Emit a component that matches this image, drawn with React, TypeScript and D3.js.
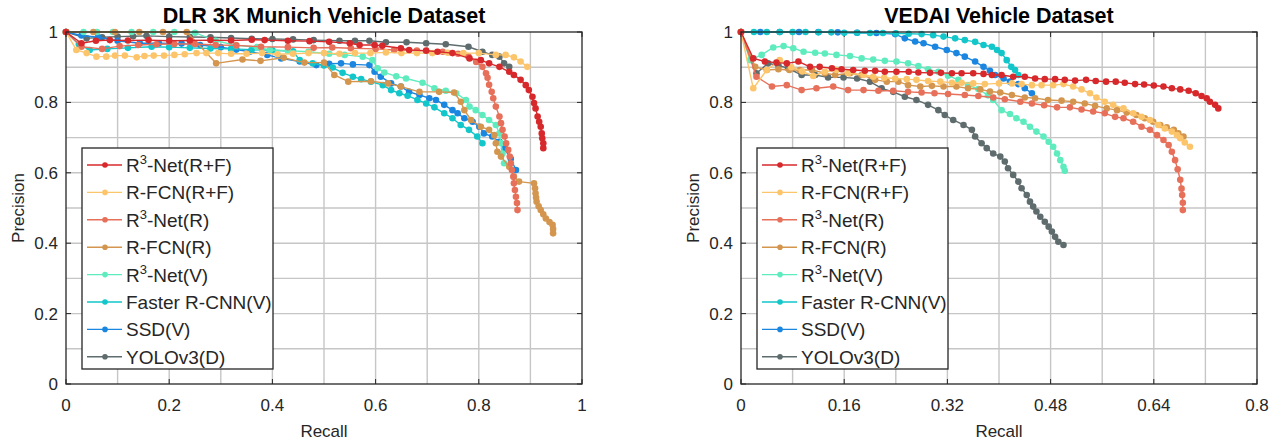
import * as d3 from "d3";
import { useEffect } from "react";

// legend order (drawn in reverse so the first entry ends up on top)
const seriesNames = [
  ["R", "3", "-Net(R+F)"],
  ["R-FCN(R+F)", "", ""],
  ["R", "3", "-Net(R)"],
  ["R-FCN(R)", "", ""],
  ["R", "3", "-Net(V)"],
  ["Faster R-CNN(V)", "", ""],
  ["SSD(V)", "", ""],
  ["YOLOv3(D)", "", ""],
];
const seriesColors = ["#d7292c", "#fcc56b", "#e7705a", "#d4964f", "#5eecbf", "#12c6c9", "#1a86e0", "#5f6c6e"];

// ---- DLR 3K Munich (recall, precision)
const dlrR3NetRF = [[0,1],[0.03,0.968],[0.058,0.975],[0.085,0.977],[0.12,0.976],[0.16,0.977],[0.2,0.975],[0.24,0.976],[0.28,0.977],[0.32,0.976],[0.36,0.978],[0.385,0.977],[0.43,0.975],[0.472,0.974],[0.51,0.972],[0.55,0.968],[0.569,0.963],[0.598,0.963],[0.613,0.961],[0.649,0.954],[0.665,0.949],[0.698,0.947],[0.72,0.944],[0.749,0.94],[0.782,0.925],[0.804,0.92],[0.82,0.911],[0.84,0.901],[0.859,0.887],[0.868,0.878],[0.881,0.864],[0.891,0.849],[0.897,0.835],[0.904,0.816],[0.907,0.798],[0.91,0.783],[0.914,0.76],[0.917,0.745],[0.92,0.731],[0.922,0.712],[0.923,0.698],[0.925,0.684],[0.925,0.67]];
const dlrRfcnRF = [[0,1],[0.02,0.949],[0.04,0.94],[0.059,0.93],[0.078,0.93],[0.095,0.933],[0.114,0.933],[0.137,0.928],[0.152,0.932],[0.17,0.933],[0.19,0.933],[0.21,0.935],[0.23,0.937],[0.253,0.94],[0.272,0.94],[0.295,0.94],[0.32,0.938],[0.35,0.938],[0.38,0.94],[0.41,0.937],[0.44,0.938],[0.47,0.94],[0.5,0.94],[0.53,0.938],[0.56,0.94],[0.59,0.94],[0.62,0.942],[0.65,0.94],[0.68,0.94],[0.71,0.94],[0.74,0.941],[0.77,0.94],[0.8,0.94],[0.833,0.935],[0.852,0.935],[0.868,0.928],[0.881,0.916],[0.894,0.901]];
const dlrR3NetR = [[0,1],[0.03,0.958],[0.07,0.952],[0.104,0.96],[0.14,0.963],[0.175,0.965],[0.21,0.966],[0.25,0.966],[0.29,0.963],[0.33,0.962],[0.378,0.958],[0.43,0.957],[0.48,0.955],[0.516,0.956],[0.552,0.954],[0.6,0.952],[0.636,0.949],[0.68,0.947],[0.73,0.944],[0.76,0.938],[0.78,0.93],[0.795,0.915],[0.807,0.901],[0.814,0.883],[0.817,0.87],[0.82,0.85],[0.825,0.83],[0.828,0.812],[0.833,0.788],[0.84,0.76],[0.843,0.741],[0.846,0.722],[0.85,0.703],[0.853,0.684],[0.857,0.665],[0.86,0.646],[0.862,0.627],[0.864,0.608],[0.867,0.589],[0.868,0.57],[0.87,0.551],[0.872,0.532],[0.874,0.514],[0.875,0.494]];
const dlrRfcnR = [[0,1],[0.053,1],[0.095,1],[0.142,1],[0.188,1],[0.234,1],[0.291,0.911],[0.342,0.922],[0.377,0.918],[0.422,0.927],[0.462,0.913],[0.5,0.913],[0.52,0.878],[0.547,0.859],[0.591,0.86],[0.624,0.854],[0.649,0.845],[0.685,0.83],[0.723,0.83],[0.752,0.828],[0.765,0.802],[0.772,0.778],[0.785,0.75],[0.804,0.731],[0.82,0.722],[0.83,0.707],[0.833,0.684],[0.836,0.66],[0.843,0.646],[0.859,0.617],[0.868,0.589],[0.878,0.575],[0.907,0.57],[0.909,0.556],[0.91,0.542],[0.911,0.53],[0.912,0.518],[0.916,0.505],[0.92,0.494],[0.925,0.482],[0.93,0.47],[0.937,0.46],[0.943,0.452],[0.944,0.44],[0.944,0.428]];
const dlrR3NetV = [[0,1],[0.034,1],[0.06,1],[0.091,1],[0.127,1],[0.169,1],[0.21,1],[0.25,0.998],[0.29,0.975],[0.33,0.962],[0.37,0.957],[0.395,0.949],[0.43,0.947],[0.47,0.944],[0.51,0.938],[0.54,0.935],[0.575,0.93],[0.594,0.92],[0.604,0.897],[0.617,0.885],[0.64,0.874],[0.659,0.868],[0.691,0.856],[0.714,0.84],[0.736,0.833],[0.756,0.826],[0.775,0.807],[0.782,0.788],[0.794,0.778],[0.807,0.764],[0.82,0.75],[0.833,0.736],[0.84,0.712],[0.843,0.684],[0.846,0.655],[0.849,0.627]];
const dlrFasterV = [[0,1],[0.025,0.965],[0.046,0.949],[0.08,0.952],[0.12,0.955],[0.166,0.958],[0.2,0.957],[0.24,0.955],[0.28,0.953],[0.32,0.952],[0.36,0.95],[0.4,0.948],[0.44,0.945],[0.453,0.92],[0.478,0.911],[0.5,0.905],[0.517,0.899],[0.536,0.884],[0.556,0.873],[0.572,0.866],[0.591,0.859],[0.614,0.849],[0.63,0.835],[0.646,0.826],[0.662,0.819],[0.681,0.807],[0.698,0.797],[0.714,0.786],[0.733,0.769],[0.749,0.755],[0.765,0.736],[0.781,0.722],[0.797,0.703],[0.807,0.684]];
const dlrSsdV = [[0,1],[0.03,0.99],[0.062,0.985],[0.1,0.975],[0.143,0.968],[0.18,0.968],[0.224,0.967],[0.26,0.963],[0.3,0.957],[0.33,0.95],[0.356,0.944],[0.39,0.935],[0.417,0.925],[0.453,0.916],[0.485,0.906],[0.51,0.91],[0.533,0.911],[0.556,0.908],[0.588,0.906],[0.598,0.887],[0.61,0.873],[0.63,0.854],[0.649,0.845],[0.665,0.83],[0.685,0.821],[0.704,0.812],[0.717,0.807],[0.733,0.793],[0.749,0.778],[0.759,0.769],[0.772,0.755],[0.788,0.745],[0.801,0.731],[0.81,0.712],[0.826,0.703],[0.84,0.688],[0.849,0.67],[0.862,0.64],[0.872,0.608]];
const dlrYolo = [[0,1],[0.04,0.982],[0.07,0.985],[0.1,0.987],[0.13,0.988],[0.156,0.989],[0.2,0.987],[0.24,0.986],[0.28,0.985],[0.32,0.983],[0.36,0.981],[0.4,0.98],[0.44,0.979],[0.48,0.977],[0.53,0.975],[0.56,0.975],[0.588,0.975],[0.62,0.971],[0.66,0.971],[0.698,0.968],[0.736,0.965],[0.78,0.958],[0.807,0.944],[0.826,0.935],[0.84,0.93],[0.849,0.911],[0.859,0.901]];

// ---- VEDAI
const vedR3NetRF = [[0,1],[0.019,0.925],[0.037,0.916],[0.055,0.913],[0.071,0.911],[0.089,0.916],[0.107,0.901],[0.122,0.901],[0.141,0.897],[0.156,0.894],[0.174,0.892],[0.192,0.89],[0.208,0.89],[0.223,0.887],[0.241,0.887],[0.26,0.887],[0.275,0.885],[0.293,0.884],[0.31,0.884],[0.327,0.883],[0.342,0.883],[0.36,0.883],[0.376,0.881],[0.389,0.878],[0.404,0.878],[0.422,0.873],[0.44,0.873],[0.456,0.868],[0.471,0.866],[0.487,0.866],[0.502,0.864],[0.518,0.862],[0.535,0.864],[0.55,0.861],[0.566,0.859],[0.581,0.859],[0.595,0.856],[0.611,0.852],[0.625,0.851],[0.64,0.848],[0.655,0.845],[0.668,0.84],[0.681,0.837],[0.694,0.833],[0.705,0.826],[0.714,0.818],[0.722,0.812],[0.727,0.802],[0.735,0.793],[0.74,0.783]];
const vedRfcnRF = [[0,1],[0.019,0.84],[0.04,0.892],[0.06,0.92],[0.078,0.9],[0.095,0.888],[0.112,0.875],[0.13,0.887],[0.148,0.892],[0.166,0.883],[0.19,0.878],[0.205,0.873],[0.222,0.87],[0.239,0.868],[0.257,0.866],[0.272,0.864],[0.29,0.861],[0.309,0.859],[0.327,0.856],[0.342,0.856],[0.36,0.854],[0.378,0.852],[0.4,0.854],[0.42,0.854],[0.435,0.852],[0.451,0.849],[0.466,0.849],[0.484,0.849],[0.5,0.852],[0.515,0.845],[0.528,0.837],[0.541,0.826],[0.551,0.814],[0.564,0.802],[0.577,0.793],[0.593,0.783],[0.608,0.769],[0.621,0.759],[0.634,0.75],[0.647,0.736],[0.657,0.726],[0.668,0.717],[0.676,0.707],[0.681,0.698],[0.688,0.686],[0.696,0.674]];
const vedR3NetR = [[0,1],[0.024,0.873],[0.048,0.845],[0.071,0.849],[0.094,0.835],[0.117,0.84],[0.143,0.845],[0.166,0.835],[0.19,0.835],[0.213,0.833],[0.236,0.833],[0.259,0.83],[0.28,0.828],[0.3,0.826],[0.321,0.824],[0.347,0.821],[0.368,0.818],[0.391,0.814],[0.409,0.809],[0.433,0.802],[0.451,0.797],[0.47,0.792],[0.49,0.786],[0.51,0.786],[0.528,0.78],[0.546,0.774],[0.564,0.769],[0.58,0.759],[0.593,0.755],[0.608,0.745],[0.621,0.731],[0.634,0.722],[0.645,0.707],[0.655,0.693],[0.663,0.679],[0.668,0.66],[0.673,0.636],[0.677,0.61],[0.681,0.58],[0.683,0.555],[0.684,0.537],[0.685,0.515],[0.685,0.494]];
const vedRfcnR = [[0,1],[0.022,0.901],[0.04,0.892],[0.058,0.894],[0.075,0.892],[0.091,0.892],[0.11,0.892],[0.13,0.883],[0.146,0.878],[0.169,0.883],[0.187,0.878],[0.208,0.864],[0.226,0.859],[0.244,0.859],[0.259,0.849],[0.278,0.845],[0.296,0.847],[0.314,0.845],[0.334,0.845],[0.352,0.84],[0.371,0.837],[0.386,0.831],[0.402,0.828],[0.42,0.821],[0.44,0.814],[0.456,0.812],[0.476,0.807],[0.497,0.805],[0.515,0.802],[0.533,0.797],[0.549,0.79],[0.567,0.783],[0.583,0.778],[0.598,0.771],[0.613,0.764],[0.626,0.755],[0.639,0.745],[0.65,0.736],[0.66,0.729],[0.671,0.722],[0.678,0.712],[0.686,0.703]];
const vedR3NetV = [[0,1],[0.014,0.92],[0.032,0.935],[0.05,0.956],[0.066,0.96],[0.081,0.954],[0.097,0.944],[0.115,0.941],[0.13,0.939],[0.148,0.935],[0.169,0.932],[0.187,0.925],[0.205,0.922],[0.223,0.918],[0.241,0.916],[0.259,0.911],[0.275,0.903],[0.29,0.894],[0.306,0.887],[0.321,0.876],[0.337,0.864],[0.352,0.849],[0.368,0.838],[0.383,0.82],[0.391,0.807],[0.404,0.778],[0.417,0.767],[0.427,0.755],[0.438,0.745],[0.448,0.731],[0.458,0.717],[0.469,0.703],[0.477,0.688],[0.484,0.674],[0.49,0.655],[0.495,0.636],[0.5,0.617],[0.502,0.606]];
const vedFasterV = [[0,1],[0.02,1],[0.04,1],[0.06,1],[0.08,1],[0.1,1],[0.12,0.999],[0.14,0.999],[0.16,0.998],[0.18,0.998],[0.2,0.997],[0.22,0.997],[0.24,0.996],[0.26,0.995],[0.28,0.994],[0.298,0.991],[0.314,0.987],[0.332,0.982],[0.347,0.977],[0.363,0.972],[0.376,0.963],[0.389,0.958],[0.397,0.949],[0.404,0.94],[0.412,0.92],[0.419,0.901],[0.425,0.892],[0.43,0.878]];
const vedSsdV = [[0,1],[0.03,1],[0.06,1],[0.09,1],[0.12,1],[0.15,0.999],[0.18,0.998],[0.21,0.997],[0.239,0.994],[0.254,0.982],[0.27,0.973],[0.283,0.968],[0.301,0.958],[0.319,0.949],[0.334,0.94],[0.347,0.93],[0.363,0.916],[0.376,0.901],[0.386,0.89],[0.394,0.878],[0.407,0.868],[0.417,0.859],[0.43,0.852],[0.44,0.84],[0.451,0.826]];
const vedYolo = [[0,1],[0.024,0.883],[0.042,0.911],[0.058,0.905],[0.073,0.897],[0.094,0.878],[0.115,0.878],[0.135,0.871],[0.159,0.871],[0.18,0.868],[0.2,0.859],[0.218,0.84],[0.236,0.83],[0.254,0.816],[0.272,0.807],[0.29,0.793],[0.306,0.778],[0.316,0.764],[0.329,0.75],[0.345,0.736],[0.358,0.722],[0.363,0.703],[0.373,0.684],[0.381,0.67],[0.391,0.655],[0.402,0.646],[0.409,0.632],[0.414,0.613],[0.422,0.594],[0.43,0.575],[0.435,0.556],[0.443,0.537],[0.448,0.518],[0.453,0.504],[0.458,0.49],[0.464,0.475],[0.471,0.461],[0.477,0.447],[0.482,0.433],[0.487,0.418],[0.492,0.404],[0.5,0.395]];

const dlrSeries = [dlrR3NetRF, dlrRfcnRF, dlrR3NetR, dlrRfcnR, dlrR3NetV, dlrFasterV, dlrSsdV, dlrYolo];
const vedSeries = [vedR3NetRF, vedRfcnRF, vedR3NetR, vedRfcnR, vedR3NetV, vedFasterV, vedSsdV, vedYolo];

const dlrXTicks = [0, 0.2, 0.4, 0.6, 0.8, 1];
const vedXTicks = [0, 0.16, 0.32, 0.48, 0.64, 0.8];
const yTicks = [0, 0.2, 0.4, 0.6, 0.8, 1];

const FONT = "'Liberation Sans', Arial, Helvetica, sans-serif";
const INK = "#262626";

function Panel({ left, title, xMax, xTicks, gridX, series }) {
  const top = 32, bottom = 384, width = 516;
  const x = d3.scaleLinear().domain([0, xMax]).range([left, left + width]);
  const y = d3.scaleLinear().domain([0, 1]).range([bottom, top]);
  const line = d3.line().x((d) => x(d[0])).y((d) => y(d[1]));
  const gx = d3.range(1, Math.round(xMax / gridX)).map((i) => i * gridX);
  const gy = d3.range(1, 10).map((i) => i / 10);
  const fmt = (v) => String(+v.toFixed(2));

  const legX = left + 16, legY = 148, legW = 191, legH = 221, rowH = 27.4;
  const order = d3.range(series.length).reverse();

  return (
    <g>
      <rect x={left} y={top} width={width} height={bottom - top} fill="#fff" />
      {gx.map((v) => (
        <line key={"gx" + v} x1={x(v)} x2={x(v)} y1={top} y2={bottom} stroke="#c6c6c6" strokeWidth={1.4} />
      ))}
      {gy.map((v) => (
        <line key={"gy" + v} x1={left} x2={left + width} y1={y(v)} y2={y(v)} stroke="#c6c6c6" strokeWidth={1.4} />
      ))}
      {xTicks.map((v) => (
        <g key={"tx" + v}>
          <line x1={x(v)} x2={x(v)} y1={bottom} y2={bottom - 5} stroke={INK} strokeWidth={1} />
          <line x1={x(v)} x2={x(v)} y1={top} y2={top + 5} stroke={INK} strokeWidth={1} />
          <text x={x(v)} y={bottom + 27} textAnchor="middle" fontSize={17} fill={INK} fontFamily={FONT}>
            {fmt(v)}
          </text>
        </g>
      ))}
      {yTicks.map((v) => (
        <g key={"ty" + v}>
          <line x1={left} x2={left + 5} y1={y(v)} y2={y(v)} stroke={INK} strokeWidth={1} />
          <line x1={left + width} x2={left + width - 5} y1={y(v)} y2={y(v)} stroke={INK} strokeWidth={1} />
          <text x={left - 8} y={y(v) + 6} textAnchor="end" fontSize={17} fill={INK} fontFamily={FONT}>
            {fmt(v)}
          </text>
        </g>
      ))}
      {order.map((i) => (
        <g key={"s" + i}>
          <path d={line(series[i])} fill="none" stroke={seriesColors[i]} strokeWidth={1.4} />
          {series[i].map((d, j) => (
            <circle key={j} cx={x(d[0])} cy={y(d[1])} r={3.3} fill={seriesColors[i]} />
          ))}
        </g>
      ))}
      <rect x={left} y={top} width={width} height={bottom - top} fill="none" stroke={INK} strokeWidth={1.3} />
      <text x={left + width / 2} y={23} textAnchor="middle" fontSize={21.5} fontWeight="bold" fill="#000" fontFamily={FONT}>
        {title}
      </text>
      <text x={left + width / 2} y={437} textAnchor="middle" fontSize={17} fill={INK} fontFamily={FONT}>
        Recall
      </text>
      <text transform={`translate(${left - 42},${(top + bottom) / 2}) rotate(-90)`} textAnchor="middle" fontSize={17} fill={INK} fontFamily={FONT}>
        Precision
      </text>
      <rect x={legX} y={legY} width={legW} height={legH} fill="#fff" stroke={INK} strokeWidth={1.3} />
      {seriesNames.map((n, i) => {
        const ry = legY + 17 + i * rowH;
        return (
          <g key={"l" + i}>
            <line x1={legX + 5} x2={legX + 40} y1={ry} y2={ry} stroke={seriesColors[i]} strokeWidth={1.4} />
            <circle cx={legX + 23} cy={ry} r={2.8} fill={seriesColors[i]} />
            <text x={legX + 44} y={ry + 7} fontSize={19} fill={INK} fontFamily={FONT}>
              {n[0]}
              {n[1] ? (
                <tspan fontSize={13} dy={-8}>{n[1]}</tspan>
              ) : null}
              {n[1] ? <tspan dy={8}>{n[2]}</tspan> : null}
            </text>
          </g>
        );
      })}
    </g>
  );
}

export default function App() {
  useEffect(() => {
    document.body.style.margin = "0";
  }, []);
  return (
    <svg width={1276} height={445} style={{ display: "block", background: "#fff" }}>
      <Panel left={66} title="DLR 3K Munich Vehicle Dataset" xMax={1} xTicks={dlrXTicks} gridX={0.1} series={dlrSeries} />
      <Panel left={741} title="VEDAI Vehicle Dataset" xMax={0.8} xTicks={vedXTicks} gridX={0.08} series={vedSeries} />
    </svg>
  );
}
